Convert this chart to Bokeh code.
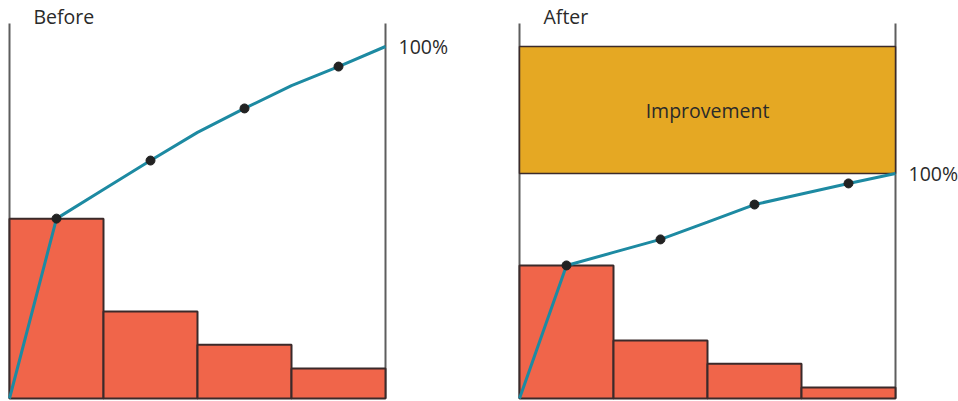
from bokeh.plotting import figure
from bokeh.models import ColumnDataSource, Range1d
from bokeh.core.properties import value
from bokeh.embed import file_html
from bokeh.resources import INLINE

# ---- data (percent of the "before" total) ----
panel_titles = ["Before", "After"]
bar_index = [0, 1, 2, 3]
before_bars = [51.1, 24.7, 15.3, 8.5]
after_bars = [37.8, 16.5, 9.9, 3.1]
cum_x = [0, 0.5, 1, 1.5, 2, 2.5, 3, 3.5, 4]
before_cum = [0, 51.1, 59.4, 67.6, 75.6, 82.4, 88.9, 94.3, 100]
after_cum = [0, 37.8, 41.5, 45.2, 50.1, 55.1, 58.1, 61.1, 63.9]
dot_x = [0.5, 1.5, 2.5, 3.5]
before_dots = [51.1, 67.6, 82.4, 94.3]
after_dots = [37.8, 45.2, 55.1, 61.1]
total_label = "100%"
improvement_label = "Improvement"

# ---- styling / layout ----
W, H = 958, 401
LEFT_PX = 9
PX_X = 94.0          # px per bar
PX_Y = 3.52          # px per percent
BOTTOM_PX = 398
OFFSET = 510 / PX_X  # second panel offset in x units
BAR_COLOR = "#F0654A"
LINE_COLOR = "#1D8AA2"
DOT_COLOR = "#222222"
GOLD = "#E5A823"
EDGE = "#3B2A2A"
AXIS_GREY = "#5E5E5E"
TEXT = "#2A2A2A"
FONT = value("Open Sans")

p = figure(width=W, height=H, output_backend="svg", toolbar_location=None,
           x_range=Range1d(-LEFT_PX / PX_X, (W - LEFT_PX) / PX_X),
           y_range=Range1d(-(H - BOTTOM_PX) / PX_Y, BOTTOM_PX / PX_Y),
           min_border=0)
p.axis.visible = False
p.grid.visible = False
p.outline_line_color = None
p.background_fill_color = "white"

top_line = (BOTTOM_PX - 23) / PX_Y
title_y = (BOTTOM_PX - 16) / PX_Y
panels = [
    (0.0, before_bars, before_cum, before_dots, 100.0, False),
    (OFFSET, after_bars, after_cum, after_dots, after_cum[-1], True),
]

for i, (off, bars, cum, dots, end_val, show_impr) in enumerate(panels):
    # frame lines
    p.segment(x0=[off, off + 4], y0=[0, 0], x1=[off, off + 4], y1=[top_line, top_line],
              line_color=AXIS_GREY, line_width=2)
    if show_impr:
        p.quad(left=[off], right=[off + 4], bottom=[end_val], top=[100],
               fill_color=GOLD, line_color=EDGE, line_width=1.5)
        p.text(x=[off + 2], y=[(end_val + 100) / 2], text=[improvement_label],
               text_font=FONT, text_font_size="19.5px", text_color=TEXT,
               text_align="center", text_baseline="middle")
    src = ColumnDataSource(dict(left=[off + b for b in bar_index],
                                right=[off + b + 1 for b in bar_index],
                                top=bars, bottom=[0] * len(bars)))
    p.quad(left="left", right="right", top="top", bottom="bottom", source=src,
           fill_color=BAR_COLOR, line_color=EDGE, line_width=2)
    p.line(x=[off + x for x in cum_x], y=cum, line_color=LINE_COLOR, line_width=3)
    p.scatter(x=[off + x for x in dot_x], y=dots, size=9, fill_color=DOT_COLOR,
              line_color=DOT_COLOR)
    p.text(x=[off + 4 + 13 / PX_X], y=[end_val], text=[total_label],
           text_font=FONT, text_font_size="19.5px", text_color=TEXT,
           text_align="left", text_baseline="middle")
    p.text(x=[off + 24 / PX_X], y=[title_y], text=[panel_titles[i]],
           text_font=FONT, text_font_size="19.5px", text_color=TEXT,
           text_align="left", text_baseline="middle")

open("out.html", "w").write(file_html(p, INLINE))
